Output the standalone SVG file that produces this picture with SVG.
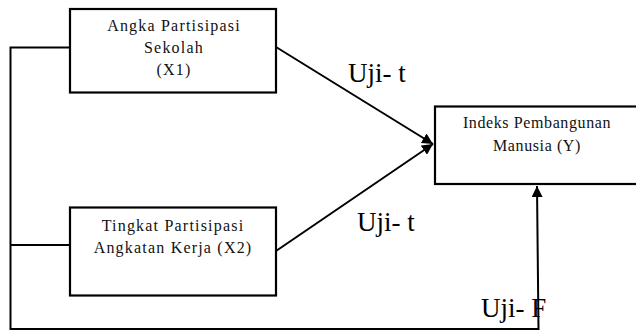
<svg xmlns="http://www.w3.org/2000/svg" width="636" height="333" viewBox="0 0 636 333">
<style>
.box{fill:#fff;stroke:#000;stroke-width:2.2}
.lbl{font-family:"Liberation Serif","Times New Roman",serif;font-size:16px;letter-spacing:1.2px;fill:#111;text-anchor:middle}
.lbly{letter-spacing:0.6px}
.uji{font-family:"Liberation Serif","Times New Roman",serif;font-size:27px;fill:#000}
.con{fill:none;stroke:#000;stroke-width:2}
</style>
<defs>
<marker id="arr" viewBox="0 0 10 10" refX="10" refY="5" markerWidth="5.5" markerHeight="5.5" orient="auto" markerUnits="strokeWidth">
<path d="M0,0 L10,5 L0,10 z" fill="#000"/>
</marker>
</defs>
<g id="connectors">
<path class="con" d="M70,47.5 H10.5 V329 H538.5 L537,186" marker-end="url(#arr)"/>
<path class="con" d="M10.5,245 H70"/>
<path class="con" d="M276,47 L433,144" marker-end="url(#arr)"/>
<path class="con" d="M276,251 L433,144" marker-end="url(#arr)"/>
</g>
<g id="x1">
<rect class="box" x="70" y="9" width="206" height="83.5"/>
<text class="lbl" x="174" y="31">Angka Partisipasi</text>
<text class="lbl" x="174" y="53">Sekolah</text>
<text class="lbl" x="174" y="75">(X1)</text>
</g>
<g id="x2">
<rect class="box" x="70" y="207.5" width="206" height="88"/>
<text class="lbl" x="173" y="231">Tingkat Partisipasi</text>
<text class="lbl" x="173" y="253">Angkatan Kerja (X2)</text>
</g>
<g id="y">
<rect class="box" x="435" y="106.5" width="210" height="77.5"/>
<text class="lbl lbly" x="537" y="128">Indeks Pembangunan</text>
<text class="lbl lbly" x="537" y="151">Manusia (Y)</text>
</g>
<g id="labels">
<text class="uji" x="348" y="82">Uji- t</text>
<text class="uji" x="357" y="231">Uji- t</text>
<text class="uji" x="481" y="317">Uji- F</text>
</g>
</svg>
